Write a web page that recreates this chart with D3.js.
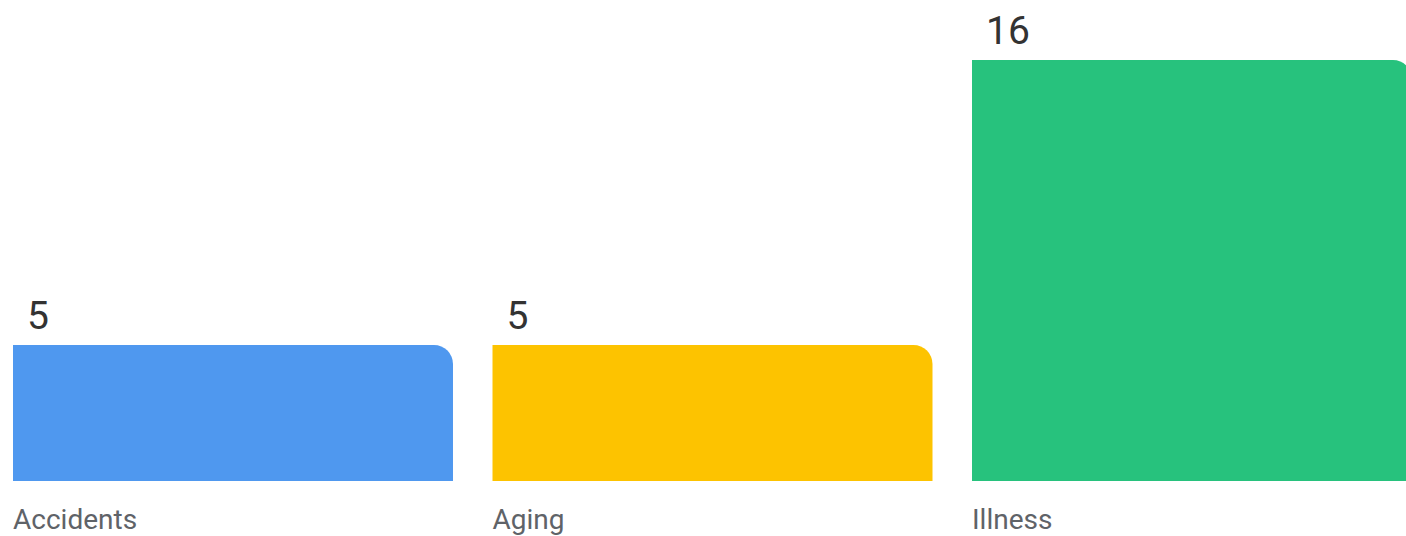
<!DOCTYPE html>
<html><head><meta charset="utf-8">
<script src="https://cdn.jsdelivr.net/npm/d3@7"></script>
<style>html,body{margin:0;padding:0;background:#fff;overflow:hidden}</style>
</head><body>
<svg id="c" width="1406" height="536"></svg>
<script>
const categories = ["Accidents", "Aging", "Illness"];
const values = [5, 5, 16];
const colors = ["#4f98ef", "#fdc300", "#27c27d"];

const svg = d3.select("#c");
const baseY = 481, topY = 60;
const x = d3.scaleBand().domain(categories).range([13, 1412]).paddingInner(0.0824).paddingOuter(0);
const y = d3.scaleLinear().domain([-0.25, 16]).range([baseY, topY]);

function barPath(x0, y0, w, h, r) {
  const p = d3.path();
  p.moveTo(x0, y0 + h);
  p.lineTo(x0, y0);
  p.lineTo(x0 + w - r, y0);
  p.arcTo(x0 + w, y0, x0 + w, y0 + r, r);
  p.lineTo(x0 + w, y0 + h);
  p.closePath();
  return p.toString();
}

const g = svg.selectAll("g.bar").data(categories).join("g").attr("class", "bar");
g.append("path")
  .attr("d", (d, i) => barPath(x(d), y(values[i]), x.bandwidth(), baseY - y(values[i]), 19))
  .attr("fill", (d, i) => colors[i]);
g.append("text")
  .attr("x", d => x(d) + 14)
  .attr("y", (d, i) => y(values[i]) - 16)
  .attr("font-family", "Roboto, 'Open Sans', sans-serif")
  .attr("font-size", 39)
  .attr("fill", "#333")
  .text((d, i) => values[i]);
g.append("text")
  .attr("x", d => x(d))
  .attr("y", 529)
  .attr("font-family", "Roboto, 'Open Sans', sans-serif")
  .attr("font-size", 28)
  .attr("fill", "#5f6368")
  .text(d => d);
</script>
</body></html>
